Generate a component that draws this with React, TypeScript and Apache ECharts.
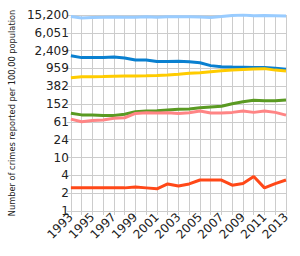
import React, { useEffect, useRef } from "react";
import * as echarts from "echarts";

const years = ["1993","1994","1995","1996","1997","1998","1999","2000","2001","2002","2003","2004","2005","2006","2007","2008","2009","2010","2011","2012","2013"];

const lightBlue = [14000,13000,13300,13500,13700,13500,13600,13800,13600,13800,13900,13800,13700,13400,14000,14800,15200,14600,14900,14700,14500];
const blue = [1850,1680,1680,1700,1740,1650,1480,1490,1370,1370,1400,1350,1290,1110,1050,1030,1020,1010,1010,970,920];
const yellow = [595,625,625,630,640,650,650,655,665,685,710,745,770,810,850,885,910,935,950,880,840];
const green = [95,87,86,84,84,90,102,106,108,112,116,118,126,131,136,155,172,185,181,181,188];
const pink = [70,61,65,67,73,75,94,97,96,97,93,97,106,96,96,99,106,99,106,99,86];
const red = [2.0,2.0,2.0,2.0,2.0,2.0,2.1,2.0,1.9,2.45,2.2,2.45,3.0,3.0,3.0,2.3,2.5,3.6,2.0,2.5,3.0];

const TOP_VALUE = 15200;
const STEP_DECADES = 0.4;
const STEPS = 11;
const BASE = TOP_VALUE / Math.pow(10, STEP_DECADES * STEPS);

const toK = (v: number) => Math.log10(v / BASE) / STEP_DECADES;
const fromK = (k: number) => BASE * Math.pow(10, STEP_DECADES * k);

const seriesDefs = [
  { name: "Series A", data: lightBlue, color: "#99ccff" },
  { name: "Series B", data: blue, color: "#0a80d0" },
  { name: "Series C", data: yellow, color: "#ffcc00" },
  { name: "Series D", data: green, color: "#5a9a22" },
  { name: "Series E", data: pink, color: "#ff8585" },
  { name: "Series F", data: red, color: "#ff4818" },
];

export default function App() {
  const ref = useRef<HTMLDivElement>(null);
  useEffect(() => {
    if (!ref.current) return;
    const chart = echarts.init(ref.current, null, { renderer: "svg" });
    const font = "DejaVu Sans";
    chart.setOption({
      animation: false,
      textStyle: { fontFamily: font },
      grid: { left: 68, right: 14, top: 15, bottom: 45, containLabel: false },
      xAxis: {
        type: "category",
        data: years,
        boundaryGap: false,
        axisLine: { show: true, lineStyle: { color: "#cccccc" } },
        axisTick: { show: true, length: 4, interval: 0, lineStyle: { color: "#cccccc" } },
        splitLine: { show: true, interval: 0, lineStyle: { color: "#cccccc", width: 1 } },
        axisLabel: {
          interval: 1,
          rotate: 45,
          margin: 4,
          fontSize: 12,
          color: "#222222",
          fontFamily: font,
        },
      },
      yAxis: {
        type: "value",
        min: 0,
        max: STEPS,
        interval: 1,
        name: "Number of crimes reported per 100,00 population",
        nameLocation: "middle",
        nameRotate: 90,
        nameGap: 50,
        nameTextStyle: { fontSize: 8.25, color: "#222222", fontFamily: font },
        axisLine: { show: false },
        axisTick: { show: true, length: 4, lineStyle: { color: "#cccccc" } },
        splitLine: { show: true, lineStyle: { color: "#cccccc", width: 1 } },
        axisLabel: {
          margin: 2,
          fontSize: 12,
          color: "#222222",
          fontFamily: font,
          formatter: (k: number) => Math.round(fromK(k)).toLocaleString("en-US"),
        },
      },
      series: seriesDefs.map((s) => ({
        name: s.name,
        type: "line",
        data: s.data.map(toK),
        showSymbol: false,
        symbol: "none",
        lineStyle: { color: s.color, width: 3 },
        itemStyle: { color: s.color },
      })),
    });
    return () => chart.dispose();
  }, []);
  return <div ref={ref} style={{ width: 300, height: 256, position: "absolute", left: 0, top: 0 }} />;
}
